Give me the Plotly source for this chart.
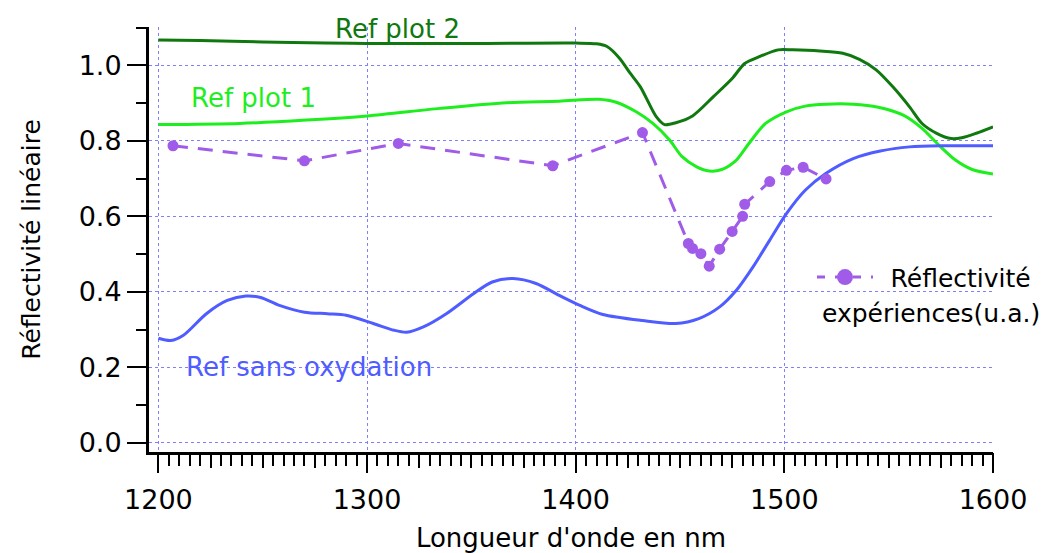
import plotly.graph_objects as go

# Wavelength grids (nm) and linear reflectivity of the reference curves
wl_ref2 = [1200, 1220, 1250, 1280, 1300, 1350, 1400, 1410, 1415, 1421, 1426, 1431,
           1438.6, 1442.6, 1448, 1456, 1466, 1475, 1481, 1488, 1497, 1504, 1517,
           1528, 1536, 1544, 1552, 1560, 1566, 1573, 1580, 1585, 1592, 1600]
r_ref2 = [1.067, 1.066, 1.062, 1.059, 1.058, 1.058, 1.059, 1.057, 1.050, 1.019, 0.980, 0.943,
          0.864, 0.843, 0.848, 0.866, 0.917, 0.965, 1.005, 1.023, 1.041, 1.041, 1.038,
          1.032, 1.016, 0.988, 0.943, 0.890, 0.846, 0.820, 0.806, 0.808, 0.820, 0.837]

wl_ref1 = [1200, 1239, 1271, 1300, 1335, 1367, 1392, 1411, 1419, 1429, 1437, 1445,
           1451, 1458, 1464, 1470, 1477, 1483, 1491, 1501, 1510, 1520, 1533, 1545,
           1557, 1566, 1574, 1582, 1590, 1600]
r_ref1 = [0.843, 0.846, 0.855, 0.866, 0.886, 0.901, 0.905, 0.910, 0.903, 0.877, 0.846, 0.802,
          0.758, 0.731, 0.720, 0.724, 0.749, 0.793, 0.846, 0.877, 0.892, 0.897, 0.897, 0.889,
          0.868, 0.833, 0.789, 0.749, 0.724, 0.712]

wl_sans = [1200, 1206, 1212, 1223, 1233, 1242, 1249, 1258, 1270, 1281, 1290, 1303,
           1313, 1319, 1327, 1338, 1351, 1360, 1370, 1381, 1393, 1402, 1413, 1432,
           1448, 1459, 1469, 1477, 1485, 1493, 1501, 1510, 1520, 1533, 1546, 1560,
           1576, 1600]
r_sans = [0.277, 0.271, 0.285, 0.342, 0.377, 0.389, 0.385, 0.364, 0.346, 0.342, 0.338, 0.316,
          0.298, 0.293, 0.307, 0.342, 0.395, 0.426, 0.435, 0.422, 0.388, 0.364, 0.340, 0.324,
          0.316, 0.329, 0.360, 0.404, 0.466, 0.537, 0.607, 0.669, 0.714, 0.753, 0.773, 0.784,
          0.787, 0.787]

# Measured points (arbitrary units)
wl_exp = [1207, 1270, 1315, 1389, 1432, 1454, 1456, 1460, 1464, 1469, 1475, 1480,
          1481, 1493, 1501, 1509, 1520]
r_exp = [0.787, 0.747, 0.793, 0.734, 0.822, 0.528, 0.515, 0.501, 0.468, 0.513, 0.560, 0.600,
         0.632, 0.692, 0.722, 0.730, 0.699]

x_ticks = [1200, 1300, 1400, 1500, 1600]
y_ticks = [0.0, 0.2, 0.4, 0.6, 0.8, 1.0]

DARK_GREEN = "#0f780f"
LIGHT_GREEN = "#1eee1e"
BLUE = "#4f5cff"
PURPLE = "#a05ce8"
GRID = "#8080ff"
FONT = "DejaVu Sans"

X_RANGE = [1195.5, 1600]
Y_RANGE = [-0.0244, 1.1016]

fig = go.Figure()

fig.add_trace(go.Scatter(x=wl_ref2, y=r_ref2, mode="lines", line=dict(color=DARK_GREEN, width=3, shape="spline", smoothing=0.8),
                         showlegend=False, hoverinfo="skip"))
fig.add_trace(go.Scatter(x=wl_ref1, y=r_ref1, mode="lines", line=dict(color=LIGHT_GREEN, width=3, shape="spline", smoothing=0.8),
                         showlegend=False, hoverinfo="skip"))
fig.add_trace(go.Scatter(x=wl_sans, y=r_sans, mode="lines", line=dict(color=BLUE, width=3, shape="spline", smoothing=0.8),
                         showlegend=False, hoverinfo="skip"))
fig.add_trace(go.Scatter(x=wl_exp, y=r_exp, mode="lines+markers",
                         line=dict(color=PURPLE, width=3, dash="15px,10px"),
                         marker=dict(color=PURPLE, size=11),
                         showlegend=False, hoverinfo="skip"))
# legend entry for the measured series (larger sample symbol)
fig.add_trace(go.Scatter(x=[None], y=[None], mode="lines+markers", name="\u2002Réflectivité",
                         line=dict(color=PURPLE, width=3, dash="8px,10px"),
                         marker=dict(color=PURPLE, size=18), showlegend=True))
# carrier for the 25 nm intermediate ticks
fig.add_trace(go.Scatter(x=[None], y=[None], xaxis="x2", showlegend=False, hoverinfo="skip"))

fig.update_layout(
    width=1047, height=553,
    margin=dict(l=149, r=53, t=27, b=101),
    paper_bgcolor="white", plot_bgcolor="white",
    font=dict(family=FONT, color="black", size=26),
    xaxis=dict(
        range=X_RANGE, tickvals=x_ticks, ticktext=[str(v) for v in x_ticks],
        showline=True, linecolor="black", linewidth=3,
        ticks="outside", ticklen=18, tickwidth=2, tickcolor="black",
        tickfont=dict(size=27), ticklabelstandoff=4, automargin=False,
        showgrid=True, gridcolor=GRID, gridwidth=1, griddash="dot",
        zeroline=False,
        minor=dict(ticks="outside", ticklen=11, tickwidth=2, tickcolor="black",
                   tick0=1200, dtick=5, showgrid=False),
        title=dict(text="Longueur d'onde en nm", font=dict(size=26), standoff=22),
    ),
    xaxis2=dict(
        range=X_RANGE, overlaying="x", anchor="y", side="bottom",
        showline=False, showgrid=False, zeroline=False, showticklabels=False,
        ticks="outside", ticklen=15, tickwidth=2, tickcolor="black",
        tick0=1200, dtick=25, automargin=False,
    ),
    yaxis=dict(
        range=Y_RANGE, tickvals=y_ticks, ticktext=["%.1f" % v for v in y_ticks],
        showline=True, linecolor="black", linewidth=3,
        ticks="outside", ticklen=19, tickwidth=2, tickcolor="black",
        tickfont=dict(size=27), automargin=False,
        showgrid=True, gridcolor=GRID, gridwidth=1, griddash="dot",
        zeroline=False,
        minor=dict(ticks="outside", ticklen=10, tickwidth=2, tickcolor="black",
                   tick0=0, dtick=0.1, showgrid=False),
        title=dict(text="Réflectivité linéaire", font=dict(size=25), standoff=31),
    ),
    legend=dict(x=(812 - 149) / 845, y=(451.5 - 277) / 424.5, xanchor="left", yanchor="middle",
                bgcolor="rgba(0,0,0,0)", font=dict(size=25, color="black"),
                itemwidth=56, itemsizing="trace"),
    showlegend=True,
)

fig.add_annotation(x=1314.7, y=1.096, text="Ref plot 2", showarrow=False,
                   font=dict(color=DARK_GREEN, size=26), xanchor="center", yanchor="middle")
fig.add_annotation(x=1245.4, y=0.914, text="Ref plot 1", showarrow=False,
                   font=dict(color=LIGHT_GREEN, size=26), xanchor="center", yanchor="middle")
fig.add_annotation(x=1272.1, y=0.2016, text="Ref sans oxydation", showarrow=False,
                   font=dict(color=BLUE, size=26), xanchor="center", yanchor="middle")
fig.add_annotation(x=1517.1, y=0.343, text="expériences(u.a.)", showarrow=False,
                   font=dict(color="black", size=25), xanchor="left", yanchor="middle")

fig.write_html("out.html")
